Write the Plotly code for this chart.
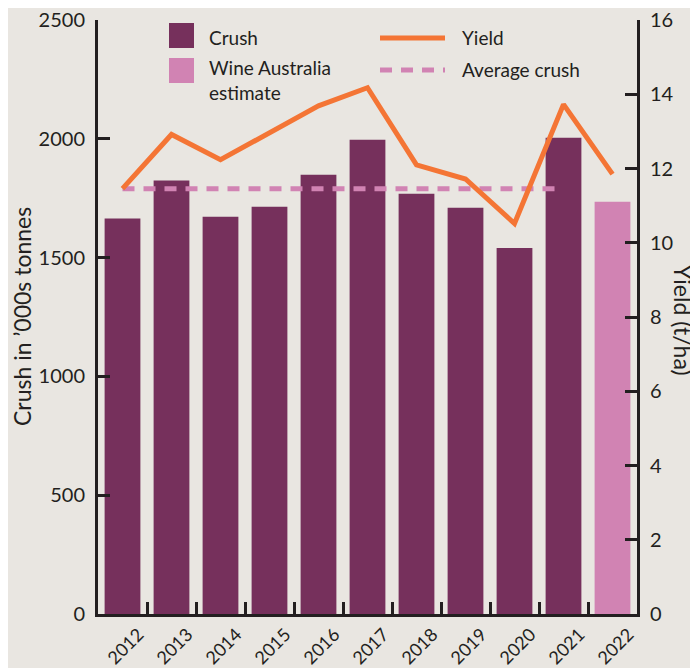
import plotly.graph_objects as go

# ---- data ----
years = ['2012', '2013', '2014', '2015', '2016', '2017', '2018', '2019', '2020', '2021', '2022']
crush = [1665, 1825, 1672, 1714, 1849, 1997, 1769, 1710, 1541, 2005]   # 2012-2021 actual
estimate_years = ['2022']
estimate = [1735]                                                       # Wine Australia estimate
yield_tha = [11.46, 12.92, 12.24, 12.97, 13.69, 14.18, 12.10, 11.72, 10.52, 13.73, 11.85]
average_crush = 1790
avg_years = years[:10]

left_ticks = [0, 500, 1000, 1500, 2000, 2500]
right_ticks = [0, 2, 4, 6, 8, 10, 12, 14, 16]

# ---- style ----
BG = '#e9e6e1'
PLUM = '#76305c'
PINK = '#d183b3'
ORANGE = '#f47535'
INK = '#231f20'
FONT = 'Lato'

fig = go.Figure()

fig.add_trace(go.Bar(x=years[:len(crush)], y=crush, marker=dict(color=PLUM, line=dict(width=0)),
                     name='Crush', showlegend=False))
fig.add_trace(go.Bar(x=estimate_years, y=estimate, marker=dict(color=PINK, line=dict(width=0)),
                     name='Wine Australia estimate', showlegend=False))
fig.add_trace(go.Scatter(x=avg_years, y=[average_crush] * len(avg_years), mode='lines',
                         line=dict(color=PINK, width=5, dash='12px,9px'),
                         name='Average crush', showlegend=False))
fig.add_trace(go.Scatter(x=years, y=yield_tha, mode='lines', yaxis='y2',
                         line=dict(color=ORANGE, width=5),
                         name='Yield', showlegend=False))

# The page body has an 8px margin, so the figure is drawn 8px in from the window's corner.
OFF = 8
W, H = 698 - OFF, 668 - OFF
# plot area in window pixels
X0, X1, Y0, Y1 = 98, 637, 20, 614
L, R, T, B = X0 - OFF, W - (X1 - OFF), Y0 - OFF, H - (Y1 - OFF)


def px(x):
    return (x - X0) / (X1 - X0)


def py(y):
    return (Y1 - y) / (Y1 - Y0)


shapes = [
    dict(type='rect', xref='paper', yref='paper', x0=px(169), x1=px(194), y0=py(48), y1=py(23),
         fillcolor=PLUM, line=dict(width=0)),
    dict(type='rect', xref='paper', yref='paper', x0=px(169), x1=px(194), y0=py(83), y1=py(58),
         fillcolor=PINK, line=dict(width=0)),
    dict(type='line', xref='paper', yref='paper', x0=px(380), x1=px(445), y0=py(38), y1=py(38),
         line=dict(color=ORANGE, width=5)),
    dict(type='line', xref='paper', yref='paper', x0=px(380), x1=px(445), y0=py(70), y1=py(70),
         line=dict(color=PINK, width=5, dash='12px,9px')),
]

annotations = [
    dict(text='Crush', x=px(207), y=py(37), xref='paper', yref='paper', xanchor='left', yanchor='middle',
         showarrow=False, font=dict(size=19, color=INK, family=FONT)),
    dict(text='Wine Australia<br>estimate', x=px(207), y=py(80), xref='paper', yref='paper', xanchor='left',
         yanchor='middle', align='left', showarrow=False, font=dict(size=19, color=INK, family=FONT)),
    dict(text='Yield', x=px(460), y=py(37), xref='paper', yref='paper', xanchor='left', yanchor='middle',
         showarrow=False, font=dict(size=19, color=INK, family=FONT)),
    dict(text='Average crush', x=px(460), y=py(69), xref='paper', yref='paper', xanchor='left',
         yanchor='middle', showarrow=False, font=dict(size=19, color=INK, family=FONT)),
    dict(text='Crush in ’000s tonnes', x=px(22), y=py(317), xref='paper', yref='paper', textangle=-90,
         xanchor='center', yanchor='middle', showarrow=False, font=dict(size=23, color=INK, family=FONT)),
    dict(text='Yield (t/ha)', x=px(683), y=py(320), xref='paper', yref='paper', textangle=90,
         xanchor='center', yanchor='middle', showarrow=False, font=dict(size=23, color=INK, family=FONT)),
]

fig.update_layout(
    template='none',
    width=W, height=H,
    margin=dict(l=L, r=R, t=T, b=B, pad=0, autoexpand=False),
    paper_bgcolor=BG, plot_bgcolor=BG,
    bargap=0.27, barmode='overlay',
    showlegend=False,
    font=dict(family=FONT, color=INK, size=18),
    shapes=shapes, annotations=annotations,
    xaxis=dict(type='category', categoryorder='array', categoryarray=years, automargin=False,
               showline=True, linecolor=INK, linewidth=3, mirror=False,
               ticks='inside', tickson='boundaries', ticklen=12, tickwidth=3, tickcolor=INK,
               tickangle=-45, tickfont=dict(size=18, color=INK, family=FONT),
               ticklabelshift=16, showgrid=False, zeroline=False),
    yaxis=dict(range=[0, 2500.6], tickmode='array', tickvals=left_ticks,
               ticktext=[str(v) for v in left_ticks],
               showline=True, linecolor=INK, linewidth=3, automargin=False,
               ticks='inside', ticklen=12, tickwidth=3, tickcolor=INK,
               tickfont=dict(size=20, color=INK, family=FONT), ticklabelstandoff=6,
               ticklabeloverflow='allow', showgrid=False, zeroline=False),
    yaxis2=dict(range=[0, 16.004], tickmode='array', tickvals=right_ticks,
                ticktext=[str(v) for v in right_ticks], overlaying='y', side='right',
                showline=True, linecolor=INK, linewidth=3, automargin=False,
                ticks='inside', ticklen=12, tickwidth=3, tickcolor=INK,
                tickfont=dict(size=20, color=INK, family=FONT), ticklabelstandoff=6,
                ticklabeloverflow='allow', showgrid=False, zeroline=False),
)

fig.write_html('out.html')
